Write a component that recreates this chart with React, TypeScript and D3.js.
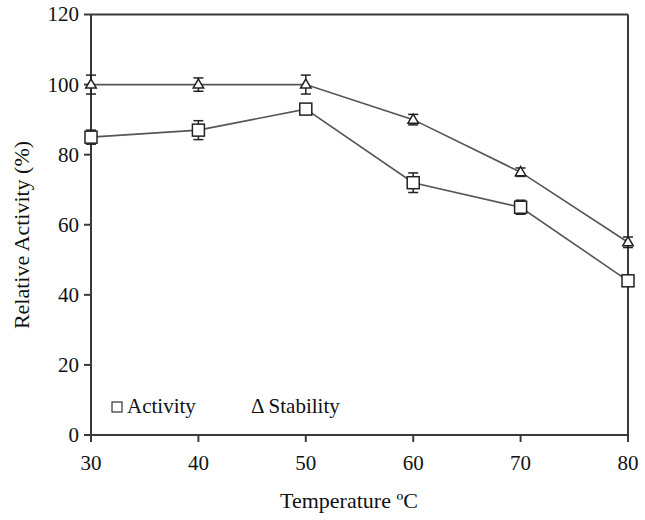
import React from "react";
import * as d3 from "d3";

const temperatures = [30, 40, 50, 60, 70, 80];
const activity = [85, 87, 93, 72, 65, 44];
const activityErr = [2, 2.7, 1, 2.8, 2, 1];
const stability = [100, 100, 100, 90, 75, 55];
const stabilityErr = [2.7, 1.9, 2.7, 1.5, 1.2, 1.5];
const xTicks = [30, 40, 50, 60, 70, 80];
const yTicks = [0, 20, 40, 60, 80, 100, 120];

const W = 645;
const H = 520;

const tickStyle = { fontFamily: "Liberation Serif", fontSize: "21px", fill: "#111" };
const titleStyle = { fontFamily: "Liberation Serif", fontSize: "22px", fill: "#111" };

export default function App() {
  const x = d3.scaleLinear().domain([30, 80]).range([91, 628]);
  const y = d3.scaleLinear().domain([0, 120]).range([435, 14.5]);
  const line = d3
    .line<number>()
    .x((_, i) => x(temperatures[i]))
    .y((d) => y(d));
  const axisColor = "#3a3a3a";
  const seriesColor = "#555";
  const markColor = "#222";
  const tri = d3.symbol().type(d3.symbolTriangle).size(48)() as string;

  const errBars = (vals: number[], errs: number[]) =>
    vals.map((v, i) => {
      const cx = x(temperatures[i]);
      const y1 = y(v + errs[i]);
      const y2 = y(v - errs[i]);
      return (
        <g key={i} stroke={markColor} strokeWidth={1.5}>
          <line x1={cx} x2={cx} y1={y1} y2={y2} />
          <line x1={cx - 5} x2={cx + 5} y1={y1} y2={y1} />
          <line x1={cx - 5} x2={cx + 5} y1={y2} y2={y2} />
        </g>
      );
    });

  return (
    <svg
      width={W}
      height={H}
      fontFamily="Liberation Serif"
      style={{ position: "absolute", left: 0, top: 0, background: "#fff", fontFamily: "Liberation Serif" }}
    >
      <rect width={W} height={H} fill="#fff" />
      {/* frame */}
      <line x1={x(30)} x2={x(80)} y1={y(120)} y2={y(120)} stroke={axisColor} strokeWidth={2} />
      <line x1={x(80)} x2={x(80)} y1={y(120)} y2={y(0)} stroke={axisColor} strokeWidth={2} />
      <line x1={x(30)} x2={x(30)} y1={y(120)} y2={y(0)} stroke={axisColor} strokeWidth={2} />
      <line x1={x(30)} x2={x(80)} y1={y(0)} y2={y(0)} stroke={axisColor} strokeWidth={2} />
      {/* y ticks */}
      {yTicks.map((t) => (
        <g key={t}>
          <line x1={x(30) - 7} x2={x(30)} y1={y(t)} y2={y(t)} stroke={axisColor} strokeWidth={2} />
          <text x={79} y={y(t)} dy="0.33em" textAnchor="end" style={tickStyle}>
            {t}
          </text>
        </g>
      ))}
      {/* x ticks */}
      {xTicks.map((t) => (
        <g key={t}>
          <line x1={x(t)} x2={x(t)} y1={y(0)} y2={y(0) + 7} stroke={axisColor} strokeWidth={2} />
          <text x={x(t)} y={470} textAnchor="middle" style={tickStyle}>
            {t}
          </text>
        </g>
      ))}
      {/* axis titles */}
      <text transform="translate(29,235) rotate(-90)" textAnchor="middle" style={titleStyle}>
        Relative Activity (%)
      </text>
      <text x={349} y={508} textAnchor="middle" style={titleStyle}>
        Temperature ºC
      </text>
      {/* series lines */}
      <path d={line(stability) || ""} fill="none" stroke={seriesColor} strokeWidth={1.6} />
      <path d={line(activity) || ""} fill="none" stroke={seriesColor} strokeWidth={1.6} />
      {errBars(stability, stabilityErr)}
      {errBars(activity, activityErr)}
      {/* markers */}
      {stability.map((v, i) => (
        <path
          key={"s" + i}
          d={tri}
          transform={`translate(${x(temperatures[i])},${y(v) + 0.5})`}
          fill="#fff"
          stroke={markColor}
          strokeWidth={1.5}
        />
      ))}
      {activity.map((v, i) => (
        <rect
          key={"a" + i}
          x={x(temperatures[i]) - 6}
          y={y(v) - 6}
          width={12}
          height={12}
          fill="#fff"
          stroke={markColor}
          strokeWidth={1.5}
        />
      ))}
      {/* legend */}
      <rect x={112} y={402} width={10} height={10} fill="#fff" stroke="#333" strokeWidth={1.2} />
      <text x={127} y={413} style={tickStyle}>
        Activity
      </text>
      <text x={251} y={413} style={tickStyle}>
        Δ Stability
      </text>
    </svg>
  );
}
